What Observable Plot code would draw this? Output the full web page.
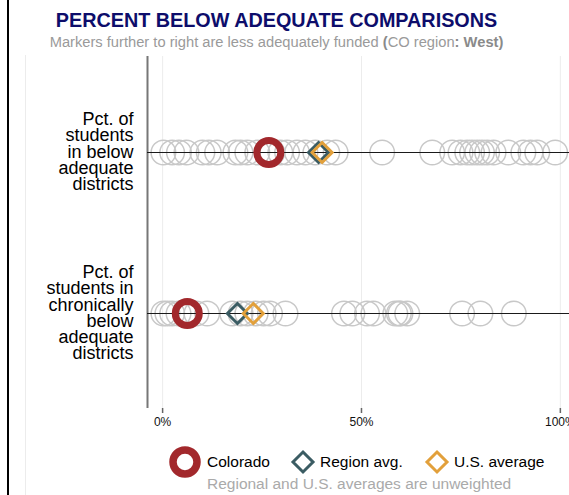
<!DOCTYPE html>
<html><head><meta charset="utf-8">
<script src="https://cdn.jsdelivr.net/npm/d3@7"></script>
<script src="https://cdn.jsdelivr.net/npm/@observablehq/plot@0.6"></script>
<style>
body{margin:0;background:#fff;font-family:"Liberation Sans",Arial,sans-serif;}
#wrap{position:relative;width:569px;height:495px;overflow:hidden;}
#border{position:absolute;left:7px;top:0;width:2px;height:495px;background:#000;}
#panel{position:absolute;left:25px;top:55px;width:1px;height:440px;background:#ececec;}
#title{position:absolute;left:0;width:553px;top:10px;text-align:center;font-weight:bold;font-size:19.8px;line-height:20px;color:#0d0d6b;white-space:nowrap;}
#subtitle{position:absolute;left:0;width:553px;top:34px;text-align:center;font-size:14.7px;line-height:16px;color:#9a9a9a;white-space:nowrap;}
#subtitle b{color:#8a8a8a;}
#chart{position:absolute;left:0;top:50px;}
.leg{position:absolute;top:453px;font-size:15.5px;line-height:18px;color:#000;white-space:nowrap;}
.sym{position:absolute;top:442px;}
#foot{position:absolute;left:207px;top:475px;font-size:15.5px;line-height:18px;color:#aaaaaa;white-space:nowrap;}
</style>
</head><body>
<div id="wrap">
  <div id="border"></div>
  <div id="panel"></div>
  <div id="title">PERCENT BELOW ADEQUATE COMPARISONS</div>
  <div id="subtitle">Markers further to right are less adequately funded <b>(</b>CO region<b>:</b> <b>West)</b></div>
  <div id="chart"></div>
  <svg class="sym" style="left:165px" width="40" height="40"><circle cx="20" cy="20" r="12" fill="none" stroke="#a2282c" stroke-width="7.5"/></svg>
  <div class="leg" style="left:207px">Colorado</div>
  <svg class="sym" style="left:283px" width="40" height="40"><path d="M20,10L30,20L20,30L10,20Z" fill="none" stroke="#3b5c63" stroke-width="3"/></svg>
  <div class="leg" style="left:320px">Region avg.</div>
  <svg class="sym" style="left:416.5px" width="40" height="40"><path d="M20,10L30,20L20,30L10,20Z" fill="none" stroke="#e2a03b" stroke-width="3"/></svg>
  <div class="leg" style="left:454px">U.S. average</div>
  <div id="foot">Regional and U.S. averages are unweighted</div>
</div>
<script>
const measures = [
  "Pct. of\nstudents\nin below\nadequate\ndistricts",
  "Pct. of\nstudents in\nchronically\nbelow\nadequate\ndistricts"
];
const stateBelow = [0.2, 2.4, 4.1, 6, 10, 11.6, 13.7, 18.3, 19.6, 21.3, 23.8, 27.6, 29.6, 31.3, 33.8, 35.9, 38.4, 41.4, 43.5,
  55.2, 67.8, 72.8, 74.9, 76.6, 77.8, 79.1, 80.3, 81.6, 83.2, 86.9, 90.7, 92.5, 94.2, 98.7];
const stateChronic = [0.2, 1.2, 2.4, 4, 6.5, 8.5, 11.2, 17.5, 19.6, 21.3, 23.4, 25.4, 27, 30.9,
  45.6, 47.7, 51.4, 53, 58.5, 59.4, 59.8, 61.5, 75.3, 79.9, 88.3];
const coloradoVals = [26.7, 6.2];
const regionVals = [39.2, 18.8];
const usVals = [40.1, 22.8];
const xTicks = [0, 50, 100];
const xDomain = [-3.8, 102.3];

const states = [
  ...stateBelow.map(v => ({m: measures[0], v})),
  ...stateChronic.map(v => ({m: measures[1], v}))
];
const co = measures.map((m, i) => ({m, v: coloradoVals[i]}));
const reg = measures.map((m, i) => ({m, v: regionVals[i]}));
const us = measures.map((m, i) => ({m, v: usVals[i]}));

const chart = Plot.plot({
  width: 569, height: 385,
  marginLeft: 147, marginRight: 0, marginTop: 6, marginBottom: 27,
  style: {fontFamily: "Liberation Sans, Arial, sans-serif", overflow: "visible", background: "transparent"},
  x: {domain: xDomain},
  y: {type: "point", domain: measures, padding: 0.593, axis: null},
  marks: [
    Plot.ruleX(xTicks, {stroke: "#ececec", strokeWidth: 1}),
    Plot.ruleX([xDomain[0]], {stroke: "#777", strokeWidth: 2}),
    Plot.axisX({ticks: xTicks, tickFormat: d => d + "%", tickSize: 5, fontSize: 12, stroke: "#666", strokeWidth: 1.5, fill: "#111", line: true, label: null}),
    Plot.dot(states, {x: "v", y: "m", r: 12.3, stroke: "#c8c8c8", strokeWidth: 1.5, fill: "none"}),
    Plot.ruleY(measures, {y: d => d, stroke: "#1a1a1a", strokeWidth: 1}),
    Plot.dot(co, {x: "v", y: "m", r: 12, stroke: "#a2282c", strokeWidth: 7, fill: "none"}),
    Plot.dot(reg, {x: "v", y: "m", symbol: "diamond2", r: 9, stroke: "#3b5c63", strokeWidth: 3, fill: "none"}),
    Plot.dot(us, {x: "v", y: "m", symbol: "diamond2", r: 9, stroke: "#e2a03b", strokeWidth: 3, fill: "none"}),
    Plot.text(measures, {y: d => d, text: d => d, frameAnchor: "left", dx: -14, textAnchor: "end", fontSize: 18, lineHeight: 0.9, fill: "#000"})
  ]
});
document.getElementById("chart").appendChild(chart);
</script>
</body></html>
